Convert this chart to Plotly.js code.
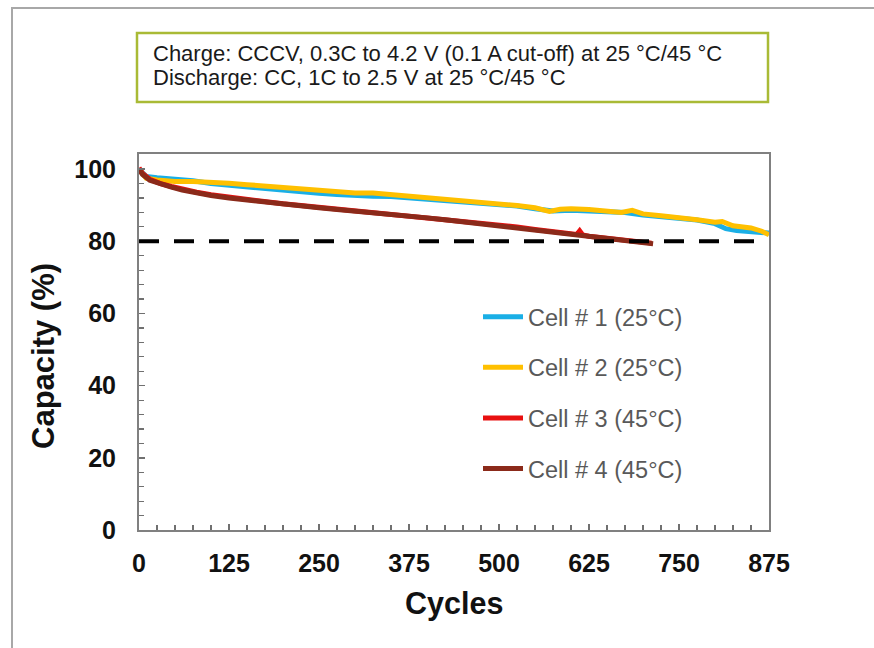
<!DOCTYPE html>
<html>
<head>
<meta charset="utf-8">
<script src="https://cdn.plot.ly/plotly-3.0.1.min.js"></script>
<style>
  html, body { margin: 0; padding: 0; background: #ffffff; }
  #chart { width: 874px; height: 648px; }
</style>
</head>
<body>
<div id="chart"></div>
<script>
// ---- data ----
const seriesNames = ["Cell # 1 (25°C)", "Cell # 2 (25°C)", "Cell # 3 (45°C)", "Cell # 4 (45°C)"];

const cell1Cycles = [0, 5, 10, 25, 50, 75, 100, 125, 150, 175, 200, 225, 250, 275, 300, 325, 350, 375, 400, 425, 450, 475, 500, 525, 550, 575, 600, 625, 650, 675, 700, 725, 750, 775, 800, 815, 830, 850, 865, 875];
const cell1Capacity = [100, 98.8, 98.0, 97.6, 97.3, 96.8, 96.0, 95.5, 95.0, 94.6, 94.0, 93.7, 93.3, 93.0, 92.6, 92.5, 92.4, 92.0, 91.6, 91.2, 90.9, 90.5, 90.1, 89.8, 89.0, 88.4, 88.6, 88.4, 87.9, 88.0, 87.3, 86.9, 86.4, 85.9, 84.9, 83.5, 83.0, 82.6, 82.4, 82.3];

const cell2Cycles = [0, 5, 10, 25, 50, 75, 100, 125, 150, 175, 200, 225, 250, 275, 300, 325, 350, 375, 400, 425, 450, 475, 500, 525, 550, 570, 585, 600, 625, 650, 670, 685, 700, 725, 750, 775, 800, 810, 825, 850, 865, 875];
const cell2Capacity = [100, 98.5, 97.5, 97.0, 96.6, 96.6, 96.5, 96.1, 95.7, 95.3, 95.0, 94.6, 94.2, 93.8, 93.4, 93.4, 93.0, 92.6, 92.2, 91.7, 91.2, 90.8, 90.4, 89.9, 89.3, 88.3, 88.9, 89.0, 88.8, 88.2, 88.0, 88.6, 87.6, 87.1, 86.7, 86.0, 85.3, 85.5, 84.3, 83.7, 82.8, 81.8];

const cell3Cycles = [0, 5, 15, 30, 45, 60, 80, 100, 125, 150, 175, 200, 225, 250, 275, 300, 325, 350, 375, 400, 425, 450, 475, 500, 525, 550, 575, 600, 608, 612, 616, 625, 650, 675, 700, 712];
const cell3Capacity = [100.4, 98.8, 97.2, 96.0, 95.2, 94.4, 93.6, 92.9, 92.2, 91.6, 91.0, 90.4, 89.9, 89.4, 89.0, 88.6, 88.2, 87.7, 87.2, 86.7, 86.2, 85.6, 85.1, 84.5, 84.0, 83.3, 82.7, 82.0, 81.9, 82.9, 81.8, 81.4, 80.8, 80.2, 79.8, 79.5];

const cell4Cycles = [0, 5, 15, 30, 45, 60, 80, 100, 125, 150, 175, 200, 225, 250, 275, 300, 325, 350, 375, 400, 425, 450, 475, 500, 525, 550, 575, 600, 625, 650, 675, 700, 714];
const cell4Capacity = [100, 98.5, 96.9, 95.8, 95.0, 94.2, 93.4, 92.7, 92.0, 91.4, 90.8, 90.2, 89.7, 89.3, 88.8, 88.4, 88.0, 87.6, 87.0, 86.5, 86.0, 85.4, 84.9, 84.3, 83.8, 83.1, 82.5, 81.8, 81.2, 80.6, 80.0, 79.6, 79.3];

const cutoffLevel = 80;
const xTickVals = [0, 125, 250, 375, 500, 625, 750, 875];
const yTickVals = [0, 20, 40, 60, 80, 100];
const xTitle = "Cycles";
const yTitle = "Capacity (%)";
const noteLine1 = "Charge: CCCV, 0.3C to 4.2 V (0.1 A cut-off) at 25 °C/45 °C";
const noteLine2 = "Discharge: CC, 1C to 2.5 V at 25 °C/45 °C";

// ---- chart ----
const colors = ["#1AAFE6", "#FFC000", "#E81010", "#8B2A1A"];
const xs = [cell1Cycles, cell2Cycles, cell3Cycles, cell4Cycles];
const ys = [cell1Capacity, cell2Capacity, cell3Capacity, cell4Capacity];

const traces = seriesNames.map((n, i) => ({
  type: "scatter",
  mode: "lines",
  name: n,
  legendgroup: "g" + i,
  x: xs[i],
  y: ys[i],
  line: { color: colors[i], width: 5 },
  hoverinfo: "skip"
}));

// plot area in pixels
const L = 139, R = 769, T = 154, B = 530;
const PW = R - L, PH = B - T;
const px = v => (v - L) / PW;
const py = v => (B - v) / PH;

const font = "Liberation Sans, Arial, sans-serif";

const layout = {
  width: 874,
  height: 648,
  margin: { l: L, r: 874 - R, t: T, b: 648 - B, pad: 0 },
  paper_bgcolor: "#ffffff",
  plot_bgcolor: "#ffffff",
  showlegend: true,
  legend: {
    x: px(478), xanchor: "left",
    y: py(295), yanchor: "top",
    bgcolor: "rgba(0,0,0,0)",
    font: { family: font, size: 23.5, color: "#595959" },
    tracegroupgap: 17,
    itemwidth: 40
  },
  xaxis: {
    range: [0, 875],
    tickvals: xTickVals,
    ticktext: xTickVals.map(String),
    ticks: "inside",
    ticklen: 6,
    tickwidth: 1.5,
    tickcolor: "#707070",
    minor: { dtick: 25, tick0: 0, ticks: "inside", ticklen: 5, tickwidth: 1.2, tickcolor: "#707070" },
    showline: true,
    linecolor: "#808080",
    linewidth: 2,
    mirror: true,
    showgrid: false,
    zeroline: false,
    tickfont: { family: font, size: 25, color: "#111111", weight: "bold" },
    ticklabelstandoff: 10
  },
  yaxis: {
    range: [0, 104.2],
    tickvals: yTickVals,
    ticktext: yTickVals.map(String),
    ticks: "inside",
    ticklen: 6,
    tickwidth: 1.5,
    tickcolor: "#707070",
    minor: { dtick: 4, tick0: 0, ticks: "inside", ticklen: 5, tickwidth: 1.2, tickcolor: "#707070" },
    showline: true,
    linecolor: "#808080",
    linewidth: 2,
    mirror: true,
    showgrid: false,
    zeroline: false,
    tickfont: { family: font, size: 25, color: "#111111", weight: "bold" },
    ticklabelstandoff: 16
  },
  shapes: [
    // outer frame
    { type: "rect", xref: "paper", yref: "paper",
      x0: px(12), x1: px(890), y0: py(670), y1: py(8),
      line: { color: "#a8a8a8", width: 2 }, layer: "below" },
    // note box
    { type: "rect", xref: "paper", yref: "paper",
      x0: px(137), x1: px(768), y0: py(102), y1: py(33),
      line: { color: "#A9BA35", width: 2.5 }, fillcolor: "rgba(0,0,0,0)" },
    // 80% threshold
    { type: "line", xref: "x", yref: "y",
      x0: 0, x1: 875, y0: cutoffLevel, y1: cutoffLevel,
      line: { color: "#000000", width: 4, dash: "20px,15px" } }
  ],
  annotations: [
    { xref: "paper", yref: "paper", x: px(151), y: py(53), xanchor: "left", yanchor: "middle",
      text: noteLine1, showarrow: false, align: "left",
      font: { family: font, size: 22, color: "#1a1a1a" } },
    { xref: "paper", yref: "paper", x: px(151), y: py(77), xanchor: "left", yanchor: "middle",
      text: noteLine2, showarrow: false, align: "left",
      font: { family: font, size: 22, color: "#1a1a1a" } },
    { xref: "paper", yref: "paper", x: px(454), y: py(603), xanchor: "center", yanchor: "middle",
      text: "<b>" + xTitle + "</b>", showarrow: false,
      font: { family: font, size: 30.5, color: "#111111" } },
    { xref: "paper", yref: "paper", x: px(43), y: py(356), xanchor: "center", yanchor: "middle",
      text: "<b>" + yTitle + "</b>", showarrow: false, textangle: -90,
      font: { family: font, size: 31, color: "#111111" } }
  ]
};

Plotly.newPlot("chart", traces, layout, { displayModeBar: false, staticPlot: true });
</script>
</body>
</html>
